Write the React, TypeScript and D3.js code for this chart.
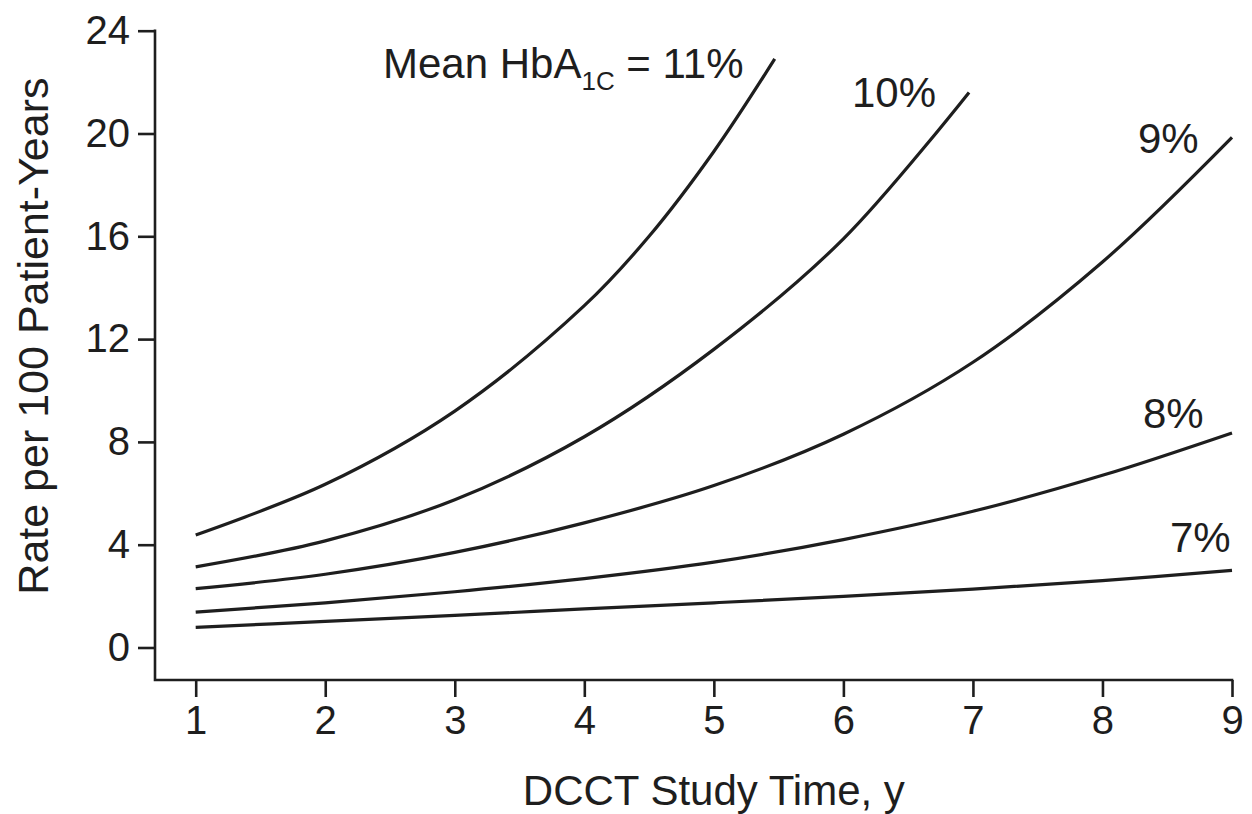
import React, { useEffect, useRef } from 'react';
import * as d3 from 'd3';

// tick values
const xTicks = [1, 2, 3, 4, 5, 6, 7, 8, 9];
const yTicks = [0, 4, 8, 12, 16, 20, 24];

// curves (rate per 100 patient-years)
const years11 = [1, 2, 3, 4, 4.5, 5, 5.47];
const rate11 = [4.38, 6.35, 9.2, 13.3, 16.0, 19.3, 22.9];
const years10 = [1, 2, 3, 4, 5, 6, 6.97];
const rate10 = [3.14, 4.15, 5.75, 8.2, 11.6, 15.9, 21.6];
const years9 = [1, 2, 3, 4, 5, 6, 7, 8, 9];
const rate9 = [2.29, 2.85, 3.7, 4.85, 6.3, 8.3, 11.1, 15.0, 19.85];
const years8 = [1, 2, 3, 4, 5, 6, 7, 8, 9];
const rate8 = [1.38, 1.74, 2.17, 2.68, 3.32, 4.2, 5.3, 6.7, 8.35];
const years7 = [1, 2, 3, 4, 5, 6, 7, 8, 9];
const rate7 = [0.78, 1.02, 1.25, 1.5, 1.74, 1.99, 2.27, 2.6, 3.0];

const FONT = '"Liberation Sans", Arial, Helvetica, sans-serif';
const INK = '#1e1e1e';

const App = () => {
    const svgRef = useRef<SVGSVGElement | null>(null);

    useEffect(() => {
        if (!svgRef.current) return;
        document.body.style.margin = '0';

        const svg = d3.select(svgRef.current);
        const width = 1252;
        const height = 814;
        const frameLeft = 155;
        const frameBottom = 680;

        svg.selectAll('*').remove();
        svg.attr('width', width).attr('height', height);

        const x = d3.scaleLinear().domain([1, 9]).range([195.7, 1232]);
        const y = d3.scaleLinear().domain([0, 24]).range([647.5, 30.7]);

        // y axis
        const gy = svg.append('g')
            .attr('transform', `translate(${frameLeft},0)`)
            .call(d3.axisLeft(y).tickValues(yTicks).tickSize(17).tickPadding(8).tickFormat(d3.format('d')));
        gy.select('.domain').remove();
        gy.selectAll('line').attr('stroke', INK).attr('stroke-width', 2.6);
        gy.selectAll('text')
            .attr('fill', INK)
            .style('font-family', FONT)
            .style('font-size', '40px');

        // x axis
        const gx = svg.append('g')
            .attr('transform', `translate(0,${frameBottom})`)
            .call(d3.axisBottom(x).tickValues(xTicks).tickSize(17).tickPadding(9).tickFormat(d3.format('d')));
        gx.select('.domain').remove();
        gx.selectAll('line').attr('stroke', INK).attr('stroke-width', 2.6);
        gx.selectAll('text')
            .attr('fill', INK)
            .style('font-family', FONT)
            .style('font-size', '40px');

        // L-shaped frame
        svg.append('path')
            .attr('d', `M${frameLeft},${y(24)}V${frameBottom}H${x(9)}`)
            .attr('fill', 'none')
            .attr('stroke', INK)
            .attr('stroke-width', 2.6)
            .attr('stroke-linecap', 'square');

        const series = [
            { xs: years11, ys: rate11 },
            { xs: years10, ys: rate10 },
            { xs: years9, ys: rate9 },
            { xs: years8, ys: rate8 },
            { xs: years7, ys: rate7 },
        ];

        const line = d3.line<number[]>()
            .x(d => x(d[0]))
            .y(d => y(d[1]))
            .curve(d3.curveCatmullRom.alpha(0.5));

        series.forEach(s => {
            svg.append('path')
                .datum(s.xs.map((v, i) => [v, s.ys[i]]))
                .attr('fill', 'none')
                .attr('stroke', INK)
                .attr('stroke-width', 3.2)
                .attr('d', line as any);
        });

        const text = (tx: number, ty: number, str: string, anchor = 'start', size = 42) =>
            svg.append('text')
                .attr('x', tx)
                .attr('y', ty)
                .attr('text-anchor', anchor)
                .attr('fill', INK)
                .style('font-family', FONT)
                .style('font-size', `${size}px`)
                .text(str);

        // curve labels
        const mean = svg.append('text')
            .attr('x', 383)
            .attr('y', 78)
            .attr('fill', INK)
            .style('font-family', FONT)
            .style('font-size', '42px');
        mean.append('tspan').text('Mean HbA');
        mean.append('tspan').attr('dy', 12).style('font-size', '26px').text('1C');
        mean.append('tspan').attr('dy', -12).text(' = 11%');

        text(852, 107, '10%');
        text(1138, 153, '9%');
        text(1143, 428, '8%');
        text(1170, 552, '7%');

        // axis titles
        text(x(5), 805, 'DCCT Study Time, y', 'middle');
        svg.append('text')
            .attr('transform', `translate(48,${(y(0) + y(24)) / 2 - 3}) rotate(-90)`)
            .attr('text-anchor', 'middle')
            .attr('fill', INK)
            .style('font-family', FONT)
            .style('font-size', '43px')
            .text('Rate per 100 Patient-Years');
    }, []);

    return <svg ref={svgRef} style={{ display: 'block', background: '#fff' }} />;
};

export default App;
